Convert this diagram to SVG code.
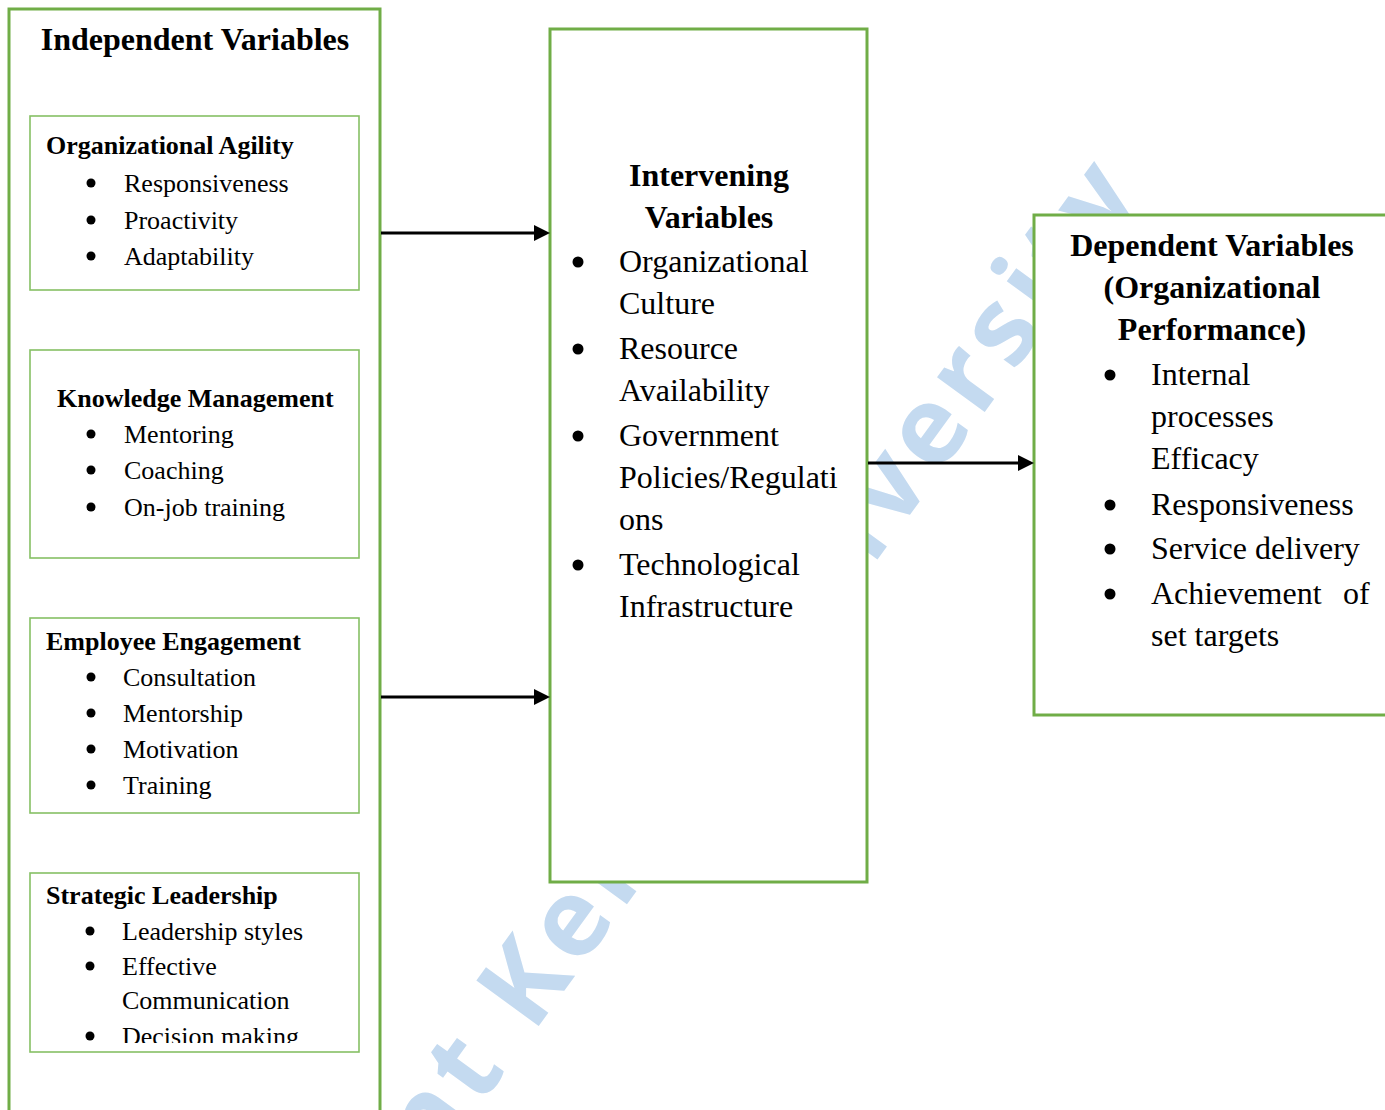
<svg xmlns="http://www.w3.org/2000/svg" width="1385" height="1110" viewBox="0 0 1385 1110">
  <defs>
    <style>
      .bg { fill: #ffffff; }
      .outer { fill: #ffffff; stroke: #70ad47; stroke-width: 3; }
      .inner { fill: #ffffff; stroke: #86c064; stroke-width: 1.6; }
      .t { font-family: "Liberation Serif", "Times New Roman", serif; fill: #000000; }
      .h1 { font-size: 32px; font-weight: bold; }
      .h2 { font-size: 26px; font-weight: bold; }
      .s26 { font-size: 26px; }
      .s32 { font-size: 32px; }
      .mid { text-anchor: middle; }
      .dot { fill: #000000; }
      .wm { font-family: "Open Sans", "Noto Sans", sans-serif; font-weight: bold; font-size: 108px; letter-spacing: 8px; fill: #c4daf0; }
      .conn line { stroke: #000000; stroke-width: 3; }
    </style>
    <marker id="arrow" markerWidth="16" markerHeight="16" refX="6" refY="8" orient="auto" markerUnits="userSpaceOnUse">
      <path d="M0,0 L16,8 L0,16 z" fill="#000000"/>
    </marker>
    <clipPath id="clip-sl">
      <rect x="31" y="873" width="327" height="170"/>
    </clipPath>
  </defs>

  <rect class="bg" x="0" y="0" width="1385" height="1110"/>

  <!-- diagonal watermark, sits under the boxes -->
  <text class="wm" transform="translate(532,1035) rotate(-54)" x="-432" y="0">Mount Kenya University</text>

  <!-- left column: independent variables -->
  <g id="independent-variables">
    <rect class="outer" x="9" y="9" width="371" height="1130"/>
    <text class="t h1 mid" x="195" y="50">Independent Variables</text>
  </g>

  <g id="organizational-agility">
    <rect class="inner" x="30" y="116" width="329" height="174"/>
    <text class="t h2" x="46" y="154">Organizational Agility</text>
    <circle class="dot" cx="91" cy="183" r="4.5"/>
    <text class="t s26" x="124" y="192">Responsiveness</text>
    <circle class="dot" cx="91" cy="220" r="4.5"/>
    <text class="t s26" x="124" y="229">Proactivity</text>
    <circle class="dot" cx="91" cy="256" r="4.5"/>
    <text class="t s26" x="124" y="265">Adaptability</text>
  </g>

  <g id="knowledge-management">
    <rect class="inner" x="30" y="350" width="329" height="208"/>
    <text class="t h2" x="57" y="407">Knowledge Management</text>
    <circle class="dot" cx="91" cy="434" r="4.5"/>
    <text class="t s26" x="124" y="443">Mentoring</text>
    <circle class="dot" cx="91" cy="470" r="4.5"/>
    <text class="t s26" x="124" y="479">Coaching</text>
    <circle class="dot" cx="91" cy="507" r="4.5"/>
    <text class="t s26" x="124" y="516">On-job training</text>
  </g>

  <g id="employee-engagement">
    <rect class="inner" x="30" y="618" width="329" height="195"/>
    <text class="t h2" x="46" y="650">Employee Engagement</text>
    <circle class="dot" cx="91" cy="677" r="4.5"/>
    <text class="t s26" x="123" y="686">Consultation</text>
    <circle class="dot" cx="91" cy="713" r="4.5"/>
    <text class="t s26" x="123" y="722">Mentorship</text>
    <circle class="dot" cx="91" cy="749" r="4.5"/>
    <text class="t s26" x="123" y="758">Motivation</text>
    <circle class="dot" cx="91" cy="785" r="4.5"/>
    <text class="t s26" x="123" y="794">Training</text>
  </g>

  <g id="strategic-leadership">
    <rect class="inner" x="30" y="873" width="329" height="179"/>
    <text class="t h2" x="46" y="904">Strategic Leadership</text>
    <circle class="dot" cx="90" cy="931" r="4.5"/>
    <text class="t s26" x="122" y="940">Leadership styles</text>
    <circle class="dot" cx="90" cy="966" r="4.5"/>
    <text class="t s26" x="122" y="975">Effective</text>
    <text class="t s26" x="122" y="1009">Communication</text>
    <g clip-path="url(#clip-sl)">
      <circle class="dot" cx="90" cy="1036" r="4.5"/>
      <text class="t s26" x="122" y="1045">Decision making</text>
    </g>
  </g>

  <!-- middle column: intervening variables -->
  <g id="intervening-variables">
    <rect class="outer" x="550" y="29" width="317" height="853"/>
    <text class="t h1 mid" x="709" y="186">Intervening</text>
    <text class="t h1 mid" x="709" y="228">Variables</text>
    <circle class="dot" cx="578" cy="262" r="5.5"/>
    <text class="t s32" x="619" y="272">Organizational</text>
    <text class="t s32" x="619" y="314">Culture</text>
    <circle class="dot" cx="578" cy="349" r="5.5"/>
    <text class="t s32" x="619" y="359">Resource</text>
    <text class="t s32" x="619" y="401">Availability</text>
    <circle class="dot" cx="578" cy="436" r="5.5"/>
    <text class="t s32" x="619" y="446">Government</text>
    <text class="t s32" x="619" y="488">Policies/Regulati</text>
    <text class="t s32" x="619" y="530">ons</text>
    <circle class="dot" cx="578" cy="565" r="5.5"/>
    <text class="t s32" x="619" y="575">Technological</text>
    <text class="t s32" x="619" y="617">Infrastructure</text>
  </g>

  <!-- right column: dependent variables -->
  <g id="dependent-variables">
    <rect class="outer" x="1034" y="215" width="400" height="500"/>
    <text class="t h1 mid" x="1212" y="256">Dependent Variables</text>
    <text class="t h1 mid" x="1212" y="298">(Organizational</text>
    <text class="t h1 mid" x="1212" y="340">Performance)</text>
    <circle class="dot" cx="1110" cy="375" r="5.5"/>
    <text class="t s32" x="1151" y="385">Internal</text>
    <text class="t s32" x="1151" y="427">processes</text>
    <text class="t s32" x="1151" y="469">Efficacy</text>
    <circle class="dot" cx="1110" cy="505" r="5.5"/>
    <text class="t s32" x="1151" y="515">Responsiveness</text>
    <circle class="dot" cx="1110" cy="549" r="5.5"/>
    <text class="t s32" x="1151" y="559">Service delivery</text>
    <circle class="dot" cx="1110" cy="594" r="5.5"/>
    <text class="t s32" x="1151" y="604">Achievement</text>
    <text class="t s32" x="1343" y="604">of</text>
    <text class="t s32" x="1151" y="646">set targets</text>
  </g>

  <!-- connectors -->
  <g id="connectors" class="conn">
    <line x1="381" y1="233" x2="540" y2="233" marker-end="url(#arrow)"/>
    <line x1="381" y1="697" x2="540" y2="697" marker-end="url(#arrow)"/>
    <line x1="868" y1="463" x2="1024" y2="463" marker-end="url(#arrow)"/>
  </g>
</svg>
